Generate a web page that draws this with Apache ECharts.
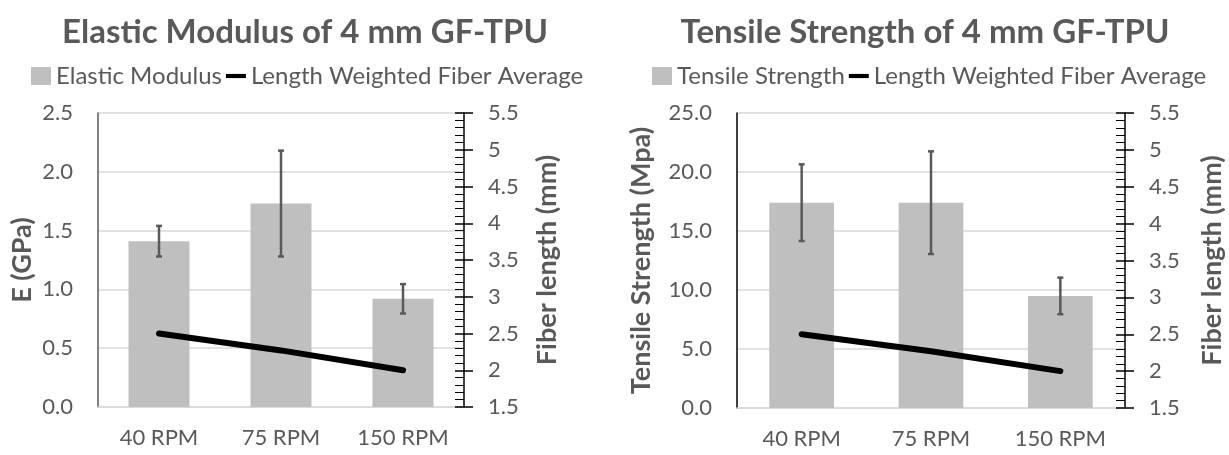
<!DOCTYPE html>
<html>
<head>
<meta charset="utf-8">
<script src="https://cdn.jsdelivr.net/npm/echarts@6/dist/echarts.min.js"></script>
<style>
  html, body { margin: 0; padding: 0; background: #fff; }
  #chart { width: 1229px; height: 455px; }
</style>
</head>
<body>
<div id="chart"></div>
<script>
const categories = ['40 RPM', '75 RPM', '150 RPM']
const modulus = [1.41, 1.73, 0.92]
const modulusErr = [0.13, 0.45, 0.125]
const strength = [17.4, 17.4, 9.5]
const strengthErr = [3.25, 4.35, 1.55]
const fiberLength = [2.5, 2.27, 2.0]

const FONT = 'Lato'
const TEXT = '#595959'

// error bars: value +/- err, vertical line with small caps
function errorSeries(name, values, errs, xi, yi) {
  return {
    name,
    type: 'custom',
    xAxisIndex: xi,
    yAxisIndex: yi,
    z: 5,
    data: values.map((v, i) => [i, v - errs[i], v + errs[i]]),
    renderItem(params, api) {
      const lo = api.coord([api.value(0), api.value(1)])
      const hi = api.coord([api.value(0), api.value(2)])
      const c = 3
      const style = { stroke: '#595959', lineWidth: 2.5 }
      return {
        type: 'group',
        children: [
          { type: 'line', shape: { x1: hi[0], y1: hi[1], x2: lo[0], y2: lo[1] }, style },
          { type: 'line', shape: { x1: hi[0] - c, y1: hi[1], x2: hi[0] + c, y2: hi[1] }, style },
          { type: 'line', shape: { x1: lo[0] - c, y1: lo[1], x2: lo[0] + c, y2: lo[1] }, style },
        ],
      }
    },
  }
}

function leftAxis(gi, max, interval, lineColor, name, nameGap) {
  return {
    type: 'value',
    gridIndex: gi,
    position: 'left',
    min: 0,
    max,
    interval,
    name,
    nameLocation: 'middle',
    nameGap,
    nameTextStyle: { fontFamily: FONT, fontSize: 27, fontWeight: 'bold', color: TEXT },
    axisLine: { show: true, lineStyle: { color: lineColor, width: 1.5 } },
    axisTick: { show: false },
    axisLabel: { fontFamily: FONT, fontSize: 22, color: TEXT, margin: 25, formatter: v => v.toFixed(1) },
    splitLine: { lineStyle: { color: '#d9d9d9', width: 1.5 } },
  }
}

function rightAxis(gi, nameGap) {
  return {
    type: 'value',
    gridIndex: gi,
    position: 'right',
    min: 1.5,
    max: 5.5,
    interval: 0.5,
    name: 'Fiber length (mm)',
    nameLocation: 'middle',
    nameGap,
    nameRotate: 90,
    nameTextStyle: { fontFamily: FONT, fontSize: 27, fontWeight: 'bold', color: TEXT },
    axisLine: { show: true, lineStyle: { color: '#000', width: 1.5 } },
    axisTick: { show: true, inside: true, length: 9, lineStyle: { color: '#000', width: 1.5 } },
    minorTick: { show: true, splitNumber: 5, length: 9, lineStyle: { color: '#000', width: 1 } },
    axisLabel: { fontFamily: FONT, fontSize: 22, color: TEXT, margin: 24 },
    splitLine: { show: false },
  }
}

// outer half of the crossing major ticks
function outerTicks(gi) {
  return {
    type: 'value',
    gridIndex: gi,
    position: 'right',
    min: 1.5,
    max: 5.5,
    interval: 0.5,
    axisLine: { show: false },
    axisTick: { show: true, length: 9, lineStyle: { color: '#000', width: 1.5 } },
    axisLabel: { show: false },
    splitLine: { show: false },
  }
}

function xAxis(gi) {
  return {
    type: 'category',
    gridIndex: gi,
    data: categories,
    axisLine: { lineStyle: { color: '#d9d9d9', width: 1.5 } },
    axisTick: { show: false },
    axisLabel: { fontFamily: FONT, fontSize: 22, color: TEXT, margin: 20 },
  }
}

const lineIcon = 'path://M0,0 L24,0 L24,5 L0,5 Z'
const legendText = { fontFamily: FONT, fontSize: 24, color: TEXT }

const option = {
  animation: false,
  title: [
    { text: 'Elastic Modulus of 4 mm GF-TPU', left: 300, top: 11, textAlign: 'center',
      textStyle: { fontFamily: FONT, fontSize: 33, fontWeight: 'bold', color: TEXT } },
    { text: 'Tensile Strength of 4 mm GF-TPU', left: 920, top: 11, textAlign: 'center',
      textStyle: { fontFamily: FONT, fontSize: 33, fontWeight: 'bold', color: TEXT } },
  ],
  legend: [
    { left: 26, top: 59, itemGap: 4, itemWidth: 20, itemHeight: 18, textStyle: legendText,
      data: [{ name: 'Elastic Modulus', icon: 'rect' }, { name: 'Length Weighted Fiber Average', icon: lineIcon }] },
    { left: 647, top: 59, itemGap: 4, itemWidth: 20, itemHeight: 18, textStyle: legendText,
      data: [{ name: 'Tensile Strength', icon: 'rect' }, { name: 'Length Weighted Fiber Average ', icon: lineIcon }] },
  ],
  grid: [
    { left: 98, right: 765, top: 113, bottom: 48 },
    { left: 737, right: 104, top: 113, bottom: 47 },
  ],
  xAxis: [xAxis(0), xAxis(1)],
  yAxis: [
    leftAxis(0, 2.5, 0.5, '#595959', 'E (GPa)', 62),
    rightAxis(0, 70),
    outerTicks(0),
    leftAxis(1, 25, 5, '#000', 'Tensile Strength (Mpa)', 82),
    rightAxis(1, 74),
    outerTicks(1),
  ],
  series: [
    { name: 'Elastic Modulus', type: 'bar', xAxisIndex: 0, yAxisIndex: 0, barWidth: '50%',
      itemStyle: { color: '#bfbfbf' }, data: modulus },
    errorSeries('modErr', modulus, modulusErr, 0, 0),
    { name: 'Length Weighted Fiber Average', type: 'line', xAxisIndex: 0, yAxisIndex: 1, z: 6,
      symbol: 'none', lineStyle: { color: '#000', width: 6, cap: 'round' }, itemStyle: { color: '#000' },
      data: fiberLength },
    { name: 'Tensile Strength', type: 'bar', xAxisIndex: 1, yAxisIndex: 3, barWidth: '50%',
      itemStyle: { color: '#bfbfbf' }, data: strength },
    errorSeries('tsErr', strength, strengthErr, 1, 3),
    { name: 'Length Weighted Fiber Average ', type: 'line', xAxisIndex: 1, yAxisIndex: 4, z: 6,
      symbol: 'none', lineStyle: { color: '#000', width: 6, cap: 'round' }, itemStyle: { color: '#000' },
      data: fiberLength },
  ],
}

const myChart = echarts.init(document.getElementById('chart'))
myChart.setOption(option)
</script>
</body>
</html>
